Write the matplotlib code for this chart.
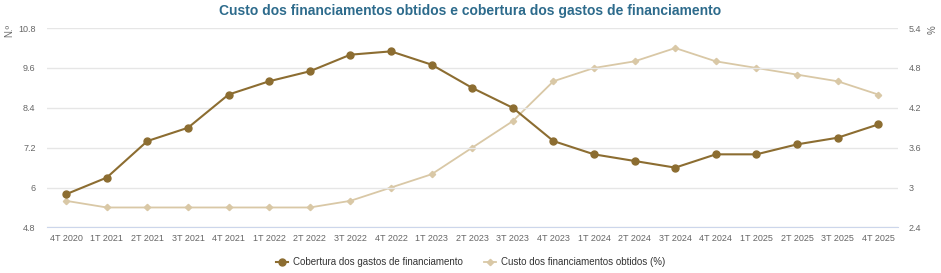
import matplotlib.pyplot as plt
from matplotlib.lines import Line2D

quarters = ['4T 2020', '1T 2021', '2T 2021', '3T 2021', '4T 2021', '1T 2022', '2T 2022',
            '3T 2022', '4T 2022', '1T 2023', '2T 2023', '3T 2023', '4T 2023', '1T 2024',
            '2T 2024', '3T 2024', '4T 2024', '1T 2025', '2T 2025', '3T 2025', '4T 2025']
cobertura = [5.8, 6.3, 7.4, 7.8, 8.8, 9.2, 9.5, 10.0, 10.1, 9.7, 9.0, 8.4,
             7.4, 7.0, 6.8, 6.6, 7.0, 7.0, 7.3, 7.5, 7.9]
custo = [2.8, 2.7, 2.7, 2.7, 2.7, 2.7, 2.7, 2.8, 3.0, 3.2, 3.6, 4.0,
         4.6, 4.8, 4.9, 5.1, 4.9, 4.8, 4.7, 4.6, 4.4]
left_ticks = [4.8, 6, 7.2, 8.4, 9.6, 10.8]
right_ticks = [2.4, 3, 3.6, 4.2, 4.8, 5.4]

DARK = '#8c6d31'
LIGHT = '#d9c8a6'
TICK = '#666666'

plt.rcParams['font.family'] = ['Liberation Sans', 'DejaVu Sans']

fig = plt.figure(figsize=(9.41, 2.73), dpi=100)
ax = fig.add_axes([0.0496, 0.167, 0.9044, 0.730])
ax2 = ax.twinx()

x = list(range(len(quarters)))
ax2.plot(x, custo, color=LIGHT, lw=1.3, marker='D', ms=3.2, zorder=2)
ax.plot(x, cobertura, color=DARK, lw=1.5, marker='o', ms=5, zorder=3)
ax.set_zorder(ax2.get_zorder() + 1)
ax.patch.set_visible(False)

ax.set_xlim(-0.48, 20.48)
ax.set_ylim(4.8, 10.8)
ax2.set_ylim(2.4, 5.4)
ax.set_yticks(left_ticks)
ax.set_yticklabels(['4.8', '6', '7.2', '8.4', '9.6', '10.8'])
ax2.set_yticks(right_ticks)
ax2.set_yticklabels(['2.4', '3', '3.6', '4.2', '4.8', '5.4'])
ax.set_xticks(x)
ax.set_xticklabels(quarters)

ax.grid(axis='y', color='#e6e6e6', lw=1)
for a in (ax, ax2):
    for s in a.spines.values():
        s.set_visible(False)
    a.tick_params(length=0, labelsize=6.5, colors=TICK)
ax.spines['bottom'].set_visible(True)
ax.spines['bottom'].set_color('#ccd6eb')
ax.tick_params(axis='x', pad=5)
ax.tick_params(axis='y', pad=8)
ax2.tick_params(axis='y', pad=8)

fig.text(0.004, 0.89, 'N.º', rotation=90, fontsize=7, color=TICK, ha='left', va='center')
fig.text(0.991, 0.89, '%', rotation=90, fontsize=7, color=TICK, ha='center', va='center')

fig.suptitle('Custo dos financiamentos obtidos e cobertura dos gastos de financiamento',
             x=0.5, y=0.985, fontsize=10, fontweight='bold', color='#2d6b8c')

handles = [Line2D([], [], color=DARK, marker='o', ms=5, lw=1.5),
           Line2D([], [], color=LIGHT, marker='D', ms=3.2, lw=1.3)]
fig.legend(handles, ['Cobertura dos gastos de financiamento', 'Custo dos financiamentos obtidos (%)'],
           loc='center', bbox_to_anchor=(0.5, 0.04), ncol=2, frameon=False, fontsize=7,
           handlelength=1.2, columnspacing=2.2, handletextpad=0.5, labelcolor='#333333')

fig.savefig('out.png', dpi=100)
